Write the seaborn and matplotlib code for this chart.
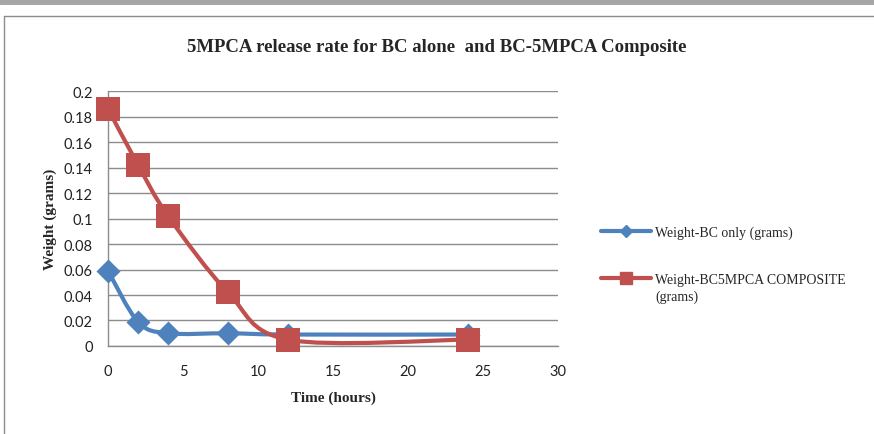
import numpy as np
import pandas as pd
import matplotlib
matplotlib.use("Agg")
import matplotlib.pyplot as plt
import seaborn as sns
from matplotlib.path import Path
from matplotlib.patches import PathPatch, Rectangle
from matplotlib.lines import Line2D

# ---- data ----
time_hours = [0, 2, 4, 8, 12, 24]
bc_only = [0.059, 0.019, 0.010, 0.010, 0.009, 0.009]
bc_composite = [0.186, 0.142, 0.102, 0.042, 0.005, 0.005]
series_names = ["Weight-BC only (grams)", "Weight-BC5MPCA COMPOSITE"]
series_name_tail = "(grams)"
title_text = "5MPCA release rate for BC alone  and BC-5MPCA Composite"
xlabel_text = "Time (hours)"
ylabel_text = "Weight (grams)"
x_ticks = [0, 5, 10, 15, 20, 25, 30]
y_ticks = [0, 0.02, 0.04, 0.06, 0.08, 0.1, 0.12, 0.14, 0.16, 0.18, 0.2]

BLUE = "#4F81BD"
RED = "#C0504D"

sns.set_theme(style="white")
plt.rcParams["font.family"] = ["Liberation Serif", "DejaVu Sans"]

df = pd.DataFrame({
    "t": time_hours * 2,
    "w": bc_only + bc_composite,
    "s": [series_names[0]] * len(time_hours) + [series_names[1]] * len(time_hours),
})

fig = plt.figure(figsize=(8.74, 4.35), dpi=100)
ax = fig.add_axes([0.1236, 0.2023, 0.5148, 0.5862])


def smooth_path(xs, ys):
    pts = np.column_stack([xs, ys]).astype(float)
    n = len(pts)
    verts = [pts[0]]
    codes = [Path.MOVETO]
    for i in range(n - 1):
        p0 = pts[i - 1] if i > 0 else pts[i]
        p1 = pts[i]
        p2 = pts[i + 1]
        p3 = pts[i + 2] if i + 2 < n else pts[i + 1]
        c1 = p1 + (p2 - p0) / 6.0
        c2 = p2 - (p3 - p1) / 6.0
        verts += [c1, c2, p2]
        codes += [Path.CURVE4] * 3
    return Path(verts, codes)


# blue series
ax.add_patch(PathPatch(smooth_path(time_hours, bc_only), facecolor="none",
                       edgecolor=BLUE, lw=3.0, capstyle="round", zorder=3))
sns.scatterplot(data=df[df.s == series_names[0]], x="t", y="w", marker="D",
                s=150, color=BLUE, edgecolor=BLUE, linewidth=0, ax=ax,
                legend=False, zorder=4)
# red series
ax.add_patch(PathPatch(smooth_path(time_hours, bc_composite), facecolor="none",
                       edgecolor=RED, lw=3.0, capstyle="round", zorder=5))
sns.scatterplot(data=df[df.s == series_names[1]], x="t", y="w", marker="s",
                s=300, color=RED, edgecolor=RED, linewidth=0, ax=ax,
                legend=False, zorder=6)

ax.set_xlim(0, 30)
ax.set_ylim(0, 0.2)
ax.set_xticks(x_ticks)
ax.set_yticks(y_ticks)
ax.set_xticklabels([str(v) for v in x_ticks])
ax.set_yticklabels(["0" if v == 0 else f"{v:g}" for v in y_ticks])
for lab in ax.get_xticklabels() + ax.get_yticklabels():
    lab.set_fontfamily(["Lato", "DejaVu Sans"])
    lab.set_fontsize(10.5)
    lab.set_color("#222222")
ax.tick_params(axis="x", length=0, pad=13)
ax.tick_params(axis="y", length=0, pad=11)
ax.grid(axis="y", color="#8C8C8C", lw=1.0)
ax.grid(axis="x", visible=False)
for side in ["top", "right"]:
    ax.spines[side].set_visible(False)
for side in ["left", "bottom"]:
    ax.spines[side].set_color("#8C8C8C")
    ax.spines[side].set_linewidth(1.0)
ax.set_axisbelow(True)
for c in ax.collections:
    c.set_clip_on(False)
for p in ax.patches:
    p.set_clip_on(False)

ax.set_xlabel(xlabel_text, fontsize=11, fontweight="bold", labelpad=9)
ax.set_ylabel(ylabel_text, fontsize=11, fontweight="bold", labelpad=5)
fig.text(0.5, 0.891, title_text, ha="center", va="center", fontsize=13.5,
         fontweight="bold")

handles = [
    Line2D([], [], color=BLUE, lw=3, marker="D", markersize=6),
    Line2D([], [], color=RED, lw=3, marker="s", markersize=8),
]
leg = fig.legend(handles, series_names, loc="upper left",
                 bbox_to_anchor=(0.681, 0.492), frameon=False, fontsize=10,
                 handlelength=3.6, handletextpad=0.3, labelspacing=2.45,
                 borderaxespad=0)

fig.canvas.draw()
t2 = leg.get_texts()[1]
bb = t2.get_window_extent().transformed(fig.transFigure.inverted())
fig.text(bb.x0, bb.y0 - 3 / 435, series_name_tail, ha="left", va="top", fontsize=10)

# decoration: top gray bar and frame
fig.patches.append(Rectangle((0, 1 - 6 / 435), 1, 6 / 435, transform=fig.transFigure,
                             facecolor="#A6A6A6", edgecolor="none"))
fig.lines.append(Line2D([4 / 874, 4 / 874], [0, 1 - 17 / 435], transform=fig.transFigure,
                        color="#8C8C8C", lw=1))
fig.lines.append(Line2D([4 / 874, 1], [1 - 17 / 435, 1 - 17 / 435], transform=fig.transFigure,
                        color="#8C8C8C", lw=1))

fig.savefig("out.png", dpi=100)
